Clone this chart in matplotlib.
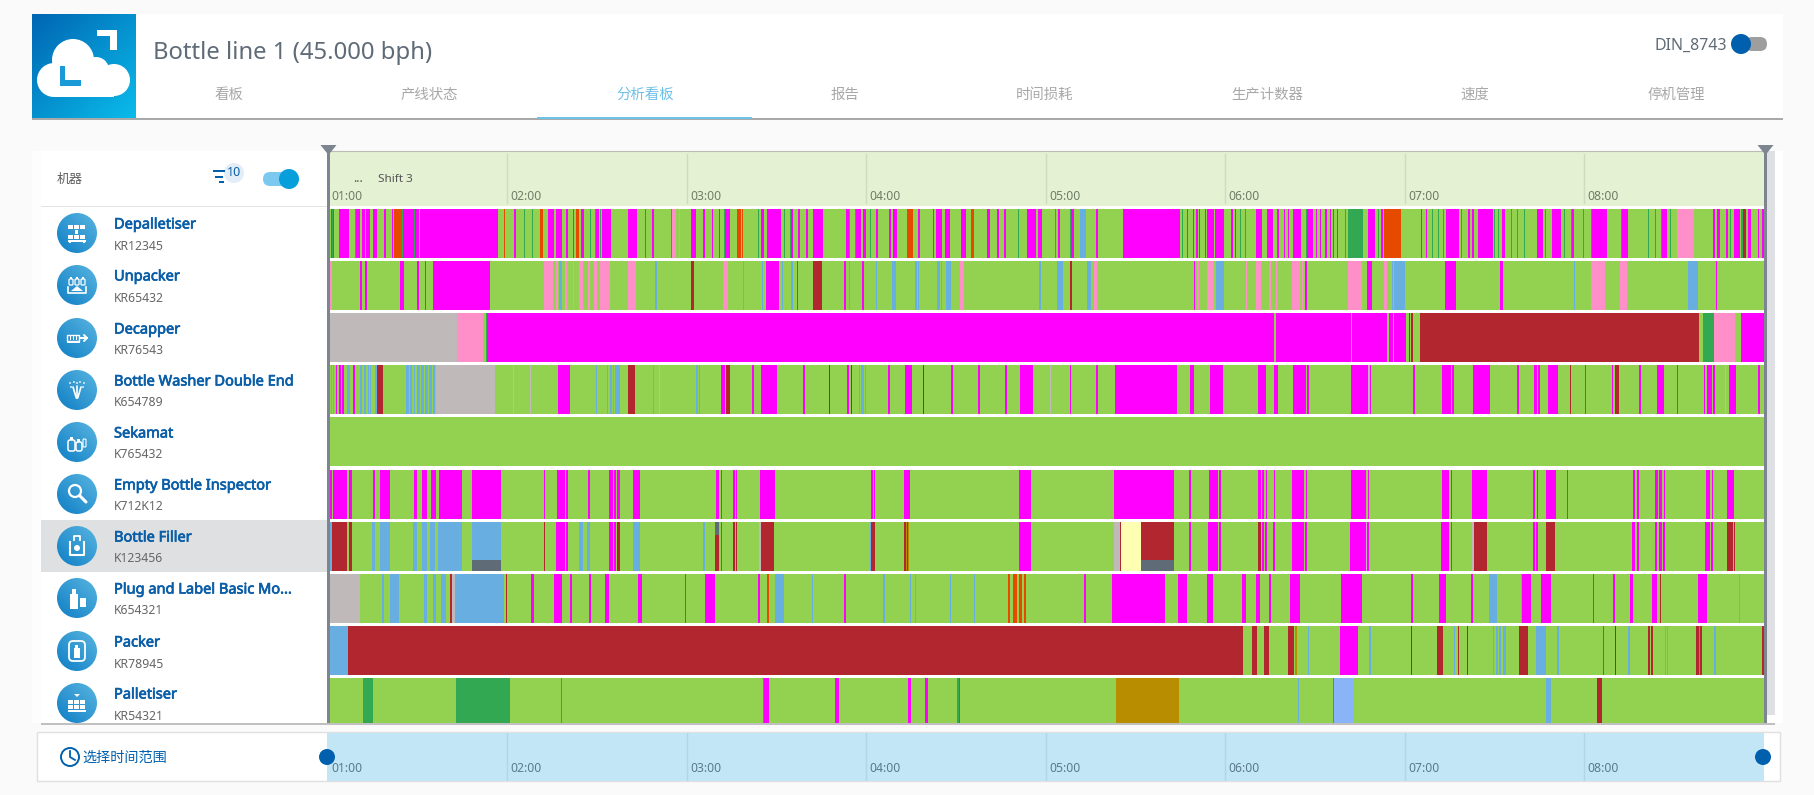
import matplotlib
matplotlib.use("Agg")
import matplotlib.pyplot as plt
import matplotlib.patheffects as pe
import numpy as np
from matplotlib.colors import LinearSegmentedColormap
from matplotlib.patches import Circle, Polygon, Rectangle, FancyBboxPatch

plt.rcParams['font.family'] = ['Noto Sans', 'Noto Sans CJK SC', 'DejaVu Sans']

W, H = 1815, 795

# time is read in slots of about 20 s, counted from 01:00
SLOTS_PER_HOUR = 179.5
TIME_START, TIME_END = 2, 1436

TITLE = "Bottle line 1 (45.000 bph)"
TABS = ["看板", "产线状态", "分析看板", "报告", "时间损耗", "生产计数器", "速度", "停机管理"]
HOUR_TICKS = [1, 2, 3, 4, 5, 6, 7, 8]
HOUR_LABELS = ["01:00", "02:00", "03:00", "04:00", "05:00", "06:00", "07:00", "08:00"]
MACHINES = ["Depalletiser", "Unpacker", "Decapper", "Bottle Washer Double End", "Sekamat",
            "Empty Bottle Inspector", "Bottle Filler", "Plug and Label Basic Mo...", "Packer", "Palletiser"]
CODES = ["KR12345", "KR65432", "KR76543", "K654789", "K765432",
         "K712K12", "K123456", "K654321", "KR78945", "KR54321"]

# states: M short stop, P blocked, O changeover, D cleaning, R failure, B starved,
# G no order, A maintenance, L break, Y idle. Everything not listed is running (green)
STATE_COLORS = {"M": "#ff00ff", "P": "#ff8fc8", "O": "#e64a00", "D": "#33a852", "R": "#b2272f",
                "B": "#68aee0", "G": "#c0b9b9", "A": "#b88e00", "L": "#8ab4f8", "Y": "#ffffb3"}
RUN_COLOR = "#93d150"
SLATE_COLOR = "#5f6b77"

depalletiser = [
    (3, 6, "M"), (4, 5, "D"), (11, 21, "M"), (27, 27.7, "D"), (27.7, 32, "M"), (34, 37.3, "M"), (38, 42, "M"),
    (45.3, 49, "M"), (56, 58, "M"), (63.7, 65, "M"), (66, 74, "O"), (74, 75, "D"), (75, 86.3, "M"), (86.3, 87, "D"),
    (87.3, 91, "M"), (92, 170, "M"), (176, 177, "O"), (186, 188, "M"), (196, 197, "D"), (204, 205, "D"),
    (212, 215, "O"), (220, 226, "M"), (228, 234, "M"), (238, 240, "M"), (245, 246, "M"), (248, 251, "O"),
    (253.3, 256, "M"), (262, 263, "D"), (267, 268, "D"), (268, 271, "M"), (272, 273, "D"), (273.7, 283, "M"),
    (300, 309, "M"), (317, 318, "O"), (324, 326.3, "M"), (343, 344, "D"), (344, 348, "P"), (351, 352, "P"),
    (363, 368, "M"), (375, 377, "M"), (384, 385, "M"), (391, 392, "M"), (396, 397, "D"), (397, 402, "M"),
    (409, 413, "O"), (413.7, 415, "O"), (430, 431, "D"), (433, 436, "M"), (439, 453, "M"), (456, 457, "D"),
    (462, 463, "D"), (463, 465, "M"), (470, 472, "M"), (478, 480, "M"), (485, 495, "M"),
    (518, 521.3, "M"), (521.3, 522, "D"), (527, 527.7, "D"), (527.7, 533, "M"), (535, 538, "M"), (542, 543, "D"),
    (548, 550, "M"), (561, 563, "M"), (565, 569, "M"), (579, 585, "O"), (590, 592, "M"), (605, 606, "M"),
    (608, 614, "M"), (617, 622, "M"), (633, 638, "M"), (643, 646, "O"), (659, 662, "M"), (669, 671, "M"),
    (676, 678, "M"), (690, 691, "D"), (699, 708, "M"), (710, 714, "M"), (727, 728, "D"), (730, 732, "M"),
    (742, 743, "D"), (743, 746, "M"), (752, 758, "B"), (768, 770, "M"), (795, 852, "M"), (854, 855, "D"),
    (859, 860, "M"), (865, 866, "M"), (868, 870, "M"), (871, 872, "M"), (877, 878, "M"), (879, 886, "M"),
    (887, 896, "M"), (903, 905, "M"), (907, 908, "M"), (912, 913, "D"), (917, 918, "D"), (928, 934, "M"),
    (939.3, 945, "M"), (949, 951, "M"), (956, 957, "M"), (960, 961, "M"), (965, 973, "M"), (978, 979, "D"),
    (979, 985, "M"), (988, 989, "M"), (992, 993, "M"), (997, 999, "M"), (1002, 1003, "M"), (1005, 1006, "M"),
    (1009, 1010, "M"), (1017, 1018, "D"), (1020, 1035, "D"), (1040, 1047, "M"), (1050, 1051, "D"), (1053, 1055, "M"),
    (1056, 1073, "O"), (1093, 1094, "M"), (1098, 1099, "M"), (1104, 1105, "D"), (1110, 1111, "D"), (1115, 1116, "D"),
    (1118, 1131, "M"), (1133, 1134, "D"), (1140, 1142, "M"), (1144, 1146, "M"), (1150, 1165, "M"), (1166, 1167, "D"),
    (1170, 1171, "D"), (1174, 1177, "M"), (1183, 1184, "D"), (1189, 1190, "D"), (1196, 1197, "D"), (1209, 1215, "M"),
    (1217, 1218, "D"), (1224, 1233, "M"), (1236, 1237, "D"), (1243, 1244, "D"), (1244, 1246, "M"), (1255, 1256, "D"),
    (1263, 1264, "D"), (1264, 1279, "M"), (1293, 1294, "D"), (1294, 1300, "M"), (1320, 1321, "D"), (1327, 1328, "D"),
    (1333, 1334, "D"), (1334, 1339, "M"), (1342, 1343, "D"), (1349, 1366, "P"), (1385, 1387, "M"), (1389, 1392, "M"),
    (1398, 1400, "M"), (1402, 1403, "D"), (1406, 1412, "M"), (1413, 1415, "D"), (1415, 1418, "R"), (1420, 1423, "M"),
    (1430, 1431, "M"), (1434, 1436, "M"),
]
unpacker = [
    (2, 4, "P"), (32, 34, "M"), (37, 39, "M"), (72, 76, "M"), (89, 91, "M"), (97, 98, "M"), (105, 162, "M"),
    (216, 225.3, "P"), (228, 230, "P"), (231, 234, "B"), (237, 239, "P"), (245, 246, "P"), (251, 255, "P"),
    (260, 262, "P"), (266, 269, "P"), (271.7, 282, "P"), (300, 308, "P"), (327, 329, "B"), (363, 366, "R"),
    (395, 400, "P"), (415, 416, "B"), (434, 435, "B"), (438, 451, "M"), (454, 455, "B"), (463, 465, "B"),
    (469, 470, "M"), (485, 494, "R"), (516, 518, "M"), (521, 522, "B"), (534, 536, "M"), (548, 549, "B"),
    (564, 568, "B"), (587, 589, "B"), (590, 591, "B"), (609, 612, "B"), (613, 614, "B"), (618, 623, "B"),
    (632, 636, "P"), (711, 713, "B"), (729, 735, "B"), (742, 744, "R"), (759, 763, "B"), (766, 769, "P"),
    (866, 867, "M"), (869, 871, "P"), (879, 886, "P"), (888, 889, "B"), (889, 896, "B"), (918, 919, "P"),
    (928, 933, "P"), (941, 943, "P"), (948, 949, "P"), (964, 972, "P"), (974, 975, "P"), (977, 979, "M"),
    (1020, 1034, "P"), (1039, 1044, "M"), (1056, 1059, "P"), (1064, 1065, "B"), (1066, 1077, "B"), (1117, 1128, "M"),
    (1172, 1175, "M"), (1246, 1247, "B"), (1263, 1277, "P"), (1292, 1299, "P"), (1360, 1370, "B"), (1388, 1389, "M"),
]
decapper = [
    (2, 129, "G"), (129, 155, "P"), (158, 159, "D"), (159, 946, "M"), (948, 1023, "M"), (1024, 1059, "M"),
    (1061, 1065, "M"), (1066.3, 1078, "M"), (1081, 1082, "R"), (1083, 1085, "R"), (1092, 1371, "R"),
    (1375, 1386, "D"), (1386, 1407, "P"), (1413, 1436, "M"),
]
washer = [
    (3, 4, "B"), (5, 6, "B"), (8, 9, "M"), (11, 13, "M"), (14, 16, "M"), (19, 22, "B"), (25, 27, "M"), (32, 34, "B"),
    (36, 38, "B"), (40, 41, "B"), (42, 43, "B"), (47, 49, "B"), (49, 55, "R"), (78, 81, "B"), (82, 84, "B"),
    (86, 87, "B"), (89, 92, "B"), (93, 96, "B"), (97, 100, "B"), (101, 104, "B"), (105, 107, "B"), (108, 167, "G"),
    (185, 186, "G"), (202, 203, "G"), (230, 242, "M"), (268, 269, "B"), (279, 280, "B"), (282, 284, "B"),
    (285, 286, "B"), (287, 292, "B"), (300, 307, "R"), (325, 326, "B"), (331, 332, "G"), (368, 370, "B"),
    (371, 372, "B"), (393, 397, "M"), (398, 402, "R"), (424, 426, "M"), (433, 449, "M"), (475, 477, "M"),
    (501, 502, "R"), (519, 521, "M"), (523, 524, "R"), (531, 532, "B"), (533, 536, "B"), (537, 538, "B"),
    (560, 562, "M"), (577, 584, "M"), (595, 596, "R"), (623, 625, "M"), (650, 652, "M"), (677, 679, "M"),
    (692, 705, "M"), (722, 723, "G"), (742, 743, "M"), (768, 770, "M"), (787, 849, "M"), (862, 866, "M"),
    (882, 895, "M"), (930, 938, "M"), (946, 950, "M"), (965, 978, "M"), (979, 981, "M"), (1023, 1040, "M"),
    (1040, 1041, "G"), (1042, 1043, "M"), (1085, 1087, "M"), (1114, 1123, "M"), (1124, 1126, "M"), (1145, 1162, "M"),
    (1189, 1191, "M"), (1206, 1209, "M"), (1210, 1212, "M"), (1220, 1230, "M"), (1242, 1243, "R"), (1257, 1258, "M"),
    (1284, 1285, "M"), (1287, 1291, "R"), (1311, 1313, "M"), (1329, 1336, "M"), (1349, 1350, "M"), (1376, 1377, "M"),
    (1379, 1384, "M"), (1385, 1387, "M"), (1397, 1398, "G"), (1401, 1408, "M"), (1430, 1432, "M"),
]
sekamat = []
inspector = [
    (2, 4, "M"), (5, 19, "M"), (21, 24, "M"), (45, 47, "M"), (52, 62, "M"), (86, 89, "M"), (94, 99, "M"),
    (103, 108, "M"), (111, 134, "M"), (144, 173, "M"), (216, 217, "M"), (229, 237, "M"), (238, 240, "M"),
    (260, 262, "M"), (281, 285, "M"), (286, 288, "M"), (289, 292, "M"), (305, 312, "M"), (388, 391, "M"),
    (393, 394, "M"), (405, 407, "M"), (408, 409, "M"), (432, 447, "M"), (543, 545, "M"), (546, 547, "M"),
    (576, 582, "M"), (691, 703, "M"), (786, 846, "M"), (861, 863, "M"), (881, 890, "M"), (891, 893, "M"),
    (930, 933, "M"), (934, 936, "M"), (938, 939, "M"), (946, 947, "M"), (964, 976, "M"), (978, 979, "M"),
    (1023, 1038, "M"), (1040, 1041, "M"), (1114, 1121, "M"), (1123, 1124, "M"), (1144, 1159, "M"), (1205, 1207, "M"),
    (1209, 1210, "M"), (1218, 1228, "M"), (1239, 1240, "M"), (1305, 1307, "M"), (1309, 1311, "M"), (1327, 1330, "M"),
    (1331, 1334, "M"), (1336, 1337, "M"), (1378, 1382, "M"), (1384, 1385, "M"), (1399, 1406, "M"),
]
filler = [
    (2, 4, "B"), (4, 19, "R"), (21, 24, "R"), (44, 47, "B"), (52, 62, "B"), (85, 89, "B"), (94, 99, "B"),
    (102, 107, "B"), (110, 134, "B"), (144, 173, "B"), (216, 217, "R"), (228, 237, "M"), (238, 240, "M"),
    (251, 255, "B"), (259, 262, "B"), (281, 285, "M"), (286, 288, "M"), (289, 292, "R"), (305, 312, "B"),
    (375, 377, "B"), (387, 391, "R"), (393, 394, "M"), (405, 407, "R"), (408, 409, "R"), (431, 433, "G"),
    (433, 446, "R"), (542, 543, "B"), (543, 547, "R"), (576, 578, "R"), (578, 579, "A"), (579, 580, "R"),
    (580, 581, "A"), (691, 703, "M"), (786, 792, "G"), (792, 793, "R"), (793, 813, "Y"), (813, 846, "R"),
    (861, 863, "M"), (880, 890, "M"), (891, 893, "M"), (930, 933, "R"), (934, 936, "M"), (937, 939, "M"),
    (945, 947, "M"), (964, 976, "M"), (977, 979, "M"), (1022, 1038, "M"), (1038, 1039, "G"), (1039, 1041, "M"),
    (1113, 1121, "M"), (1123, 1124, "M"), (1144, 1146, "G"), (1146, 1159, "R"), (1205, 1207, "M"), (1208, 1210, "M"),
    (1218, 1227, "R"), (1304, 1307, "M"), (1309, 1311, "M"), (1327, 1329, "M"), (1331, 1334, "M"), (1335, 1337, "M"),
    (1377, 1382, "M"), (1383, 1385, "M"), (1399, 1405, "R"), (1406, 1407, "R"),
]
# the part of a filler stop that is in a second, overlapping state
filler_low_overlap = [(144, 173), (813, 846)]
filler_high_overlap = [(387, 391)]
labeller = [
    (2, 32, "G"), (54, 56, "B"), (62, 71, "B"), (96, 99, "B"), (105, 108, "B"), (113, 118, "B"), (122, 124, "R"),
    (124, 127, "G"), (127, 176, "B"), (178, 179, "R"), (203, 206, "M"), (226, 234, "M"), (242, 244, "M"),
    (261, 263, "M"), (277, 281, "M"), (310, 314, "M"), (357, 358, "M"), (377, 387, "M"), (430, 432, "M"),
    (439, 441, "O"), (447, 456, "B"), (484, 485, "B"), (516, 518, "M"), (555, 557, "B"), (582, 583, "B"),
    (587, 588, "B"), (622, 623, "B"), (646, 647, "B"), (680, 682, "O"), (685, 689, "O"), (691, 694, "O"),
    (696, 698, "O"), (756, 758, "M"), (784, 837, "M"), (850, 859, "M"), (879, 885, "M"), (914, 918, "M"),
    (928, 932, "M"), (941, 943, "M"), (962, 972, "M"), (1013, 1034, "M"), (1083, 1085, "M"), (1111, 1118, "M"),
    (1143, 1145, "M"), (1161, 1169, "B"), (1193, 1194, "B"), (1194, 1203, "M"), (1213, 1223, "M"), (1265, 1266, "M"),
    (1285, 1287, "M"), (1302, 1305, "M"), (1324, 1329, "M"), (1332, 1333, "R"), (1370, 1379, "M"), (1411, 1412, "B"),
]
packer = [
    (2, 20, "B"), (20, 915, "R"), (924, 929, "R"), (936, 941, "R"), (960, 966, "R"), (967, 969, "A"), (980, 981, "B"),
    (1012, 1030, "M"), (1041, 1043, "B"), (1083, 1084, "R"), (1109, 1115, "R"), (1126, 1127, "B"), (1130, 1131, "R"),
    (1139, 1140, "R"), (1165, 1166, "B"), (1168, 1170, "B"), (1171, 1173, "B"), (1175, 1178, "B"), (1191, 1200, "R"),
    (1208, 1218, "B"), (1229, 1231, "B"), (1275, 1276, "M"), (1287, 1288, "R"), (1300, 1302, "B"), (1320, 1322, "R"),
    (1323, 1325, "R"), (1337, 1338, "B"), (1339, 1340, "B"), (1368, 1371, "R"), (1371, 1372, "A"), (1372, 1374, "R"),
    (1386, 1388, "B"), (1434, 1436, "R"),
]
palletiser = [
    (35, 45, "D"), (128, 182, "D"), (233, 234, "D"), (435, 436, "D"), (436, 441, "M"), (507, 511, "M"), (580, 583, "M"),
    (597, 600, "M"), (629, 631, "D"), (631, 632, "M"), (788, 851, "A"), (970, 971, "B"), (1005, 1006, "D"),
    (1006, 1026, "L"), (1218, 1223, "B"), (1269, 1274, "R"),
]
ROWS = [depalletiser, unpacker, decapper, washer, sekamat, inspector, filler, labeller, packer, palletiser]


def to_hours(slot):
    return 1 + np.asarray(slot, dtype=float) / SLOTS_PER_HOUR


def px_axes(x0, y0, x1, y1, zorder):
    return fig.add_axes([x0 / W, 1 - y1 / H, (x1 - x0) / W, (y1 - y0) / H], zorder=zorder)


fig = plt.figure(figsize=(W / 100, H / 100), dpi=100, facecolor="#fafafa")

# page furniture is drawn on one axes in pixel coordinates
page = px_axes(0, 0, W, H, 0)
page.set_xlim(0, W)
page.set_ylim(H, 0)
page.axis("off")


def box(x0, y0, x1, y1, color, z=1, **kw):
    page.add_patch(Rectangle((x0, y0), x1 - x0, y1 - y0, facecolor=color, edgecolor="none", zorder=z, **kw))


def gradient(extent, clip, c0, c1, to_top_right=False):
    cmap = LinearSegmentedColormap.from_list("g", [c0, c1])
    yy, xx = np.mgrid[0:1:64j, 0:1:64j]
    values = (xx - yy + 1) / 2 if to_top_right else (xx + yy) / 2
    im = page.imshow(values, cmap=cmap, extent=extent, aspect="auto", zorder=3)
    im.set_clip_path(clip)


def white(x, y, w, h):
    box(x, y, x + w, y + h, "white", z=5)


def outline(x, y, w, h, lw=1.1, round_to=0):
    if round_to:
        page.add_patch(FancyBboxPatch((x, y), w, h, boxstyle=f"round,pad=0,rounding_size={round_to}",
                                      fill=False, edgecolor="white", lw=lw, zorder=5))
    else:
        page.add_patch(Rectangle((x, y), w, h, fill=False, edgecolor="white", lw=lw, zorder=5))


def stroke(xs, ys, lw=1.2):
    page.plot(xs, ys, color="white", lw=lw, zorder=5, solid_capstyle="round")


def draw_icon(i, cx, cy):
    if i == 0:
        for r, cols in ((-8, (-9, -3, 3)), (2, (-9, -3, 3))):
            for c in cols:
                white(cx + c, cy + r, 5, 4)
        white(cx - 1.5, cy - 3, 3, 4)
        white(cx - 9, cy + 7, 18, 1.5)
        white(cx - 8, cy + 8, 2, 2)
        white(cx + 6, cy + 8, 2, 2)
    elif i == 9:
        for r in (-3, 2):
            for c in (-9, -3, 3):
                white(cx + c, cy + r, 5, 4)
        white(cx - 9, cy + 7, 18, 1.5)
        page.add_patch(Polygon([(cx - 3, cy - 9), (cx + 3, cy - 9), (cx, cy - 6)], facecolor="white", zorder=5))
    elif i == 1:
        for c in (-8, -2, 4):
            outline(cx + c, cy - 6, 4, 6, lw=0.9, round_to=1)
            white(cx + c + 1, cy - 8, 2, 2)
        page.plot([cx - 9, cx - 9, cx + 9, cx + 9], [cy + 2, cy + 8, cy + 8, cy + 2], color="white", lw=1.2, zorder=5)
        page.add_patch(Polygon([(cx - 6, cy + 6), (cx + 6, cy + 6), (cx, cy + 1)], facecolor="white", zorder=5))
    elif i == 2:
        outline(cx - 10, cy - 3, 12, 5.5, lw=1)
        for c in (-7, -4, -1):
            white(cx + c, cy - 2, 1, 3.5)
        white(cx - 10, cy + 4, 13, 1.2)
        stroke([cx + 3, cx + 10], [cy, cy], 1.4)
        stroke([cx + 7, cx + 10, cx + 7], [cy - 3, cy, cy + 3], 1.4)
    elif i == 3:
        stroke([cx - 4, cx - 0.7, cx - 0.7], [cy - 3, cy + 8, cy + 8], 1.2)
        stroke([cx + 4, cx + 0.7], [cy - 3, cy + 8], 1.2)
        stroke([cx, cx], [cy - 4, cy + 8], 1.2)
        for dx, dy in ((-7, -7), (-3, -8), (3, -8), (7, -7), (-6, -3), (6, -3), (0, -7)):
            page.add_patch(Circle((cx + dx, cy + dy), 0.9, facecolor="white", zorder=5))
    elif i == 4:
        outline(cx - 9, cy - 2, 7, 11, lw=1.1, round_to=2)
        white(cx - 7, cy - 5, 3, 3)
        outline(cx - 1, cy + 0, 6, 9, lw=1.1, round_to=2)
        white(cx + 0.5, cy - 3, 3, 3)
        outline(cx + 6, cy - 3, 3, 8, lw=0.8, round_to=1)
    elif i == 5:
        page.add_patch(Circle((cx - 2, cy - 3), 6, fill=False, edgecolor="white", lw=1.6, zorder=5))
        stroke([cx + 2.5, cx + 9], [cy + 1.5, cy + 8], 2.2)
    elif i == 6:
        page.plot([cx - 7, cx - 7, cx + 7, cx + 7], [cy - 4, cy + 9, cy + 9, cy - 4], color="white", lw=1.5, zorder=5)
        page.plot([cx - 3, cx - 3, cx + 3, cx + 3], [cy - 6, cy - 10, cy - 10, cy - 6], color="white", lw=1.3, zorder=5)
        page.add_patch(Circle((cx, cy + 2), 3, facecolor="white", zorder=5))
    elif i == 7:
        white(cx - 7, cy - 4, 8, 15)
        white(cx - 5, cy - 9, 4, 5)
        white(cx + 3, cy + 0, 6, 9)
    elif i == 8:
        outline(cx - 8, cy - 10, 16, 20, lw=1.3, round_to=4)
        white(cx - 3, cy - 3, 6, 10)
        white(cx - 1.5, cy - 6, 3, 3)


# header card
box(32, 14, 1783, 118, "white")
box(32, 118, 1783, 119.5, "#a9a9a9")
logo_clip = Rectangle((32, 14), 104, 104, transform=page.transData)
gradient((32, 136, 118, 14), logo_clip, "#0066b3", "#0abbea")
for x, y, r in ((73, 60, 21), (54, 80, 17), (114, 80, 16), (96, 70, 13)):
    page.add_patch(Circle((x, y), r, facecolor="white", zorder=4))
white(54, 70, 60, 27)
box(60, 66, 65, 86, "#1a9ad6", z=6)
box(60, 80, 81, 86, "#1a9ad6", z=6)
white(97, 30, 20, 6)
white(110, 30, 7, 20)

page.text(153, 53, TITLE, fontsize=17.2, color="#5f6b77", va="center", zorder=6)
tab_x = [229, 429, 645, 845, 1045, 1267, 1475, 1676]
for i, (x, tab) in enumerate(zip(tab_x, TABS)):
    page.text(x, 95.5, tab, fontsize=10.4, ha="center", va="center",
              color="#6ec1e8" if i == 2 else "#a8a8a8", zorder=6)
box(537, 116.5, 752, 118.5, "#6ec1e8", z=6)

page.text(1727, 45.5, "DIN_8743", fontsize=11.5, ha="right", va="center", color="#5f6b77", zorder=6)
page.add_patch(FancyBboxPatch((1745, 37), 22, 14, boxstyle="round,pad=0,rounding_size=7", facecolor="#9e9e9e",
                              edgecolor="none", zorder=5))
page.add_patch(Circle((1741, 44), 10, facecolor="#0060ad", zorder=6))

# machine panel
box(32, 151, 41, 723, "#fdfdfd")
box(41, 151, 1783, 723, "white")
box(41, 723, 1775, 725, "#c0c0c0")
box(41, 205.5, 328, 206.5, "#e2e2e2", z=2)
box(41, 520, 328, 572, "#dfe0e2", z=2)
box(1767, 151, 1775, 715, "#dfe0e3", z=2)
page.text(57, 179, "机器", fontsize=9.4, color="#5f5f5f", va="center", zorder=6)
for x0, x1, y in ((213, 225, 170), (215, 223, 175.5), (219, 224, 181)):
    box(x0, y, x1, y + 2, "#0060ad", z=6)
page.add_patch(Circle((234, 173), 10, facecolor="#e3edf7", zorder=5))
page.text(234, 172.5, "10", fontsize=9, ha="center", va="center", color="#0a5ea8", zorder=6)
page.add_patch(FancyBboxPatch((263, 172), 26, 14, boxstyle="round,pad=0,rounding_size=7", facecolor="#7cc9ef",
                              edgecolor="none", zorder=5))
page.add_patch(Circle((289, 179), 10, facecolor="#069fdc", zorder=6))

row_y = [233, 285, 338, 390, 442, 494, 546, 598, 651, 703]
name_bold = [pe.withStroke(linewidth=0.5, foreground="#0a5ea8")]
for i, (cy, name, code) in enumerate(zip(row_y, MACHINES, CODES)):
    clip = Circle((77, cy), 20, transform=page.transData)
    gradient((57, 97, cy + 20, cy - 20), clip, "#0f7fc5", "#58b4e0", to_top_right=True)
    draw_icon(i, 77, cy)
    page.text(114, cy - 8, name, fontsize=10.5, color="#0a5ea8", va="center", zorder=6, path_effects=name_bold)
    page.text(114, cy + 13, code, fontsize=8.8, color="#666666", va="center", zorder=6)

# bottom range panel
page.add_patch(Rectangle((37, 732), 1743, 49, facecolor="white", edgecolor="#e0e0e0", lw=1, zorder=1))
page.add_patch(Circle((70, 757), 9, fill=False, edgecolor="#0060ad", lw=1.4, zorder=5))
page.plot([70, 70, 75], [751, 757, 760], color="#0060ad", lw=1.3, zorder=5)
page.text(82, 758, "选择时间范围", fontsize=10.2, color="#0060ad", va="center", zorder=6)

page.set_xlim(0, W)
page.set_ylim(H, 0)

x_range = (to_hours(TIME_START), to_hours(TIME_END))

# shift header
head = px_axes(330, 151, 1764, 206, 2)
head.set_xlim(*x_range)
head.set_ylim(55, 0)
head.set_facecolor("#e4f1d3")
for s in head.spines.values():
    s.set_visible(False)
head.spines["top"].set_visible(True)
head.spines["top"].set_color("#b9bdb4")
head.set_xticks([])
head.set_yticks([])
for hour, label in zip(HOUR_TICKS, HOUR_LABELS):
    if hour > 1:
        head.plot([hour, hour], [3, 52], color="#d0dcc0", lw=1)
    head.text(hour + 3.3 / SLOTS_PER_HOUR, 45, label, fontsize=8.8, color="#6f7f66", va="center", clip_on=False)
head.text(to_hours(25), 28, "...", fontsize=9, color="#555555", va="center")
head.text(to_hours(50), 29, "Shift 3", fontsize=8.4, color="#555555", va="center")

# machine state rows
chart = px_axes(330, 207, 1764, 723, 2)
chart.axis("off")
BAR_H = 0.94
for i, row in enumerate(ROWS):
    chart.barh(i, to_hours(TIME_END) - to_hours(TIME_START), left=to_hours(TIME_START), height=BAR_H,
               color=RUN_COLOR, linewidth=0, antialiased=False)
    for start, end, state in row:
        chart.barh(i, to_hours(end) - to_hours(start), left=to_hours(start), height=BAR_H,
                   color=STATE_COLORS[state], linewidth=0, antialiased=False)
filler_row = MACHINES.index("Bottle Filler")
for start, end in filler_low_overlap:
    chart.barh(filler_row + BAR_H / 2 - 0.105, to_hours(end) - to_hours(start), left=to_hours(start), height=0.21,
               color=SLATE_COLOR, linewidth=0, antialiased=False)
for start, end in filler_high_overlap:
    chart.barh(filler_row - BAR_H / 2 + 0.125, to_hours(end) - to_hours(start), left=to_hours(start), height=0.25,
               color=SLATE_COLOR, linewidth=0, antialiased=False)
chart.set_xlim(*x_range)
chart.set_ylim(9.395, -0.509)

# selected range strip
overview = px_axes(327, 732.5, 1764, 780.5, 2)
overview.set_xlim(1 - 0.8 / SLOTS_PER_HOUR, to_hours(TIME_END))
overview.set_ylim(48, 0)
overview.set_facecolor("#c3e6f7")
for s in overview.spines.values():
    s.set_visible(False)
overview.set_xticks([])
overview.set_yticks([])
for hour, label in zip(HOUR_TICKS, HOUR_LABELS):
    if hour > 1:
        overview.plot([hour, hour], [0, 48], color="#b2d6e6", lw=1)
    overview.text(hour + 3.3 / SLOTS_PER_HOUR, 35.5, label, fontsize=8.8, color="#5b7a8c", va="center")

# top layer: time window markers and knobs
top = px_axes(0, 0, W, H, 3)
top.set_xlim(0, W)
top.set_ylim(H, 0)
top.axis("off")
top.patch.set_alpha(0)
for x0, x1 in ((327, 330), (1764, 1767)):
    top.add_patch(Rectangle((x0, 150), x1 - x0, 573, facecolor="#7d8590", edgecolor="none"))
    mid = (x0 + x1) / 2
    top.add_patch(Polygon([(mid - 8, 145), (mid + 8, 145), (mid, 155)], facecolor="#7d8590", edgecolor="none"))
for x in (327, 1763):
    top.add_patch(Circle((x, 757), 8, facecolor="#0060ad", edgecolor="none"))

fig.savefig("out.png", dpi=100, facecolor=fig.get_facecolor())
